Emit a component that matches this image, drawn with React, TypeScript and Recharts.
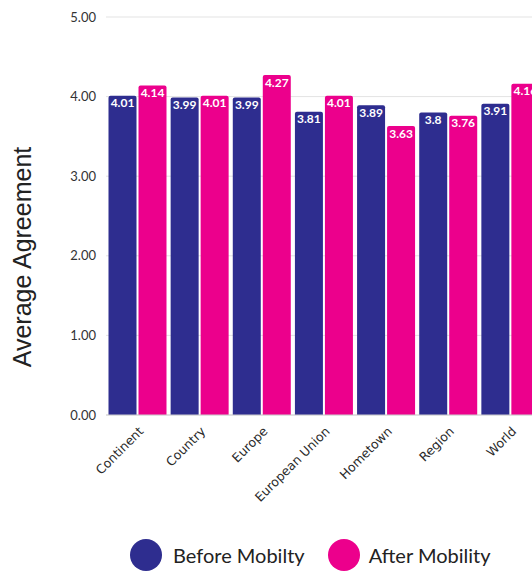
import { BarChart, Bar, XAxis, YAxis, CartesianGrid, LabelList } from "recharts";

const categories = ["Continent", "Country", "Europe", "European Union", "Hometown", "Region", "World"];
const beforeMobility = [4.01, 3.99, 3.99, 3.81, 3.89, 3.8, 3.91];
const afterMobility = [4.14, 4.01, 4.27, 4.01, 3.63, 3.76, 4.16];
const yTicks = [0, 1, 2, 3, 4, 5];

const NAVY = "#2e2d8f";
const PINK = "#ec008c";

const data = categories.map((name, i) => ({
  name,
  before: beforeMobility[i],
  after: afterMobility[i],
}));

// étiquettes de l'axe X, tournées à -45°
function AngledTick(props: any) {
  const { x, y, payload } = props;
  return (
    <g transform={`translate(${x + 4},${y + 6})`}>
      <text
        textAnchor="end"
        transform="rotate(-45)"
        fontFamily="DejaVu Sans"
        fontSize={12.5}
        fill="#2a2a2a"
        dy="0.35em"
      >
        {payload.value}
      </text>
    </g>
  );
}

export default function App() {
  return (
    <div style={{ position: "absolute", left: 0, top: 0, width: 532, height: 571, overflow: "hidden", background: "#fff" }}>
      <BarChart
        width={560}
        height={571}
        data={data}
        margin={{ top: 17, right: 19, left: 46, bottom: 0 }}
        barGap={2}
        barCategoryGap={2.5}
      >
        <CartesianGrid vertical={false} stroke="#e3e3e3" />
        <XAxis
          dataKey="name"
          height={156}
          tickLine={false}
          axisLine={{ stroke: "#cfcfcf" }}
          tick={<AngledTick />}
          interval={0}
        />
        <YAxis
          domain={[0, 5]}
          ticks={yTicks}
          width={60}
          tickLine={false}
          axisLine={false}
          tickMargin={4}
          tickFormatter={(v: number) => v.toFixed(2)}
          tick={{ fontFamily: "Lato", fontSize: 13, fill: "#333" }}
        />
        <Bar dataKey="before" fill={NAVY} radius={[2, 2, 0, 0]} isAnimationActive={false}>
          <LabelList dataKey="before" position="insideTop" offset={3} fill="#fff" fontFamily="Lato" fontWeight={700} fontSize={12} />
        </Bar>
        <Bar dataKey="after" fill={PINK} radius={[2, 2, 0, 0]} isAnimationActive={false}>
          <LabelList dataKey="after" position="insideTop" offset={3} fill="#fff" fontFamily="Lato" fontWeight={700} fontSize={12} />
        </Bar>
        <text
          transform="translate(31,257) rotate(-90)"
          textAnchor="middle"
          fontFamily="Liberation Sans"
          fontSize={25}
          fill="#222"
        >
          Average Agreement
        </text>
      </BarChart>
      <div style={{ position: "absolute", left: 130, top: 539, display: "flex", alignItems: "center", fontFamily: "Lato", fontSize: 20, color: "#222" }}>
        <span style={{ width: 32, height: 32, borderRadius: 16, background: NAVY, display: "inline-block", marginRight: 11 }} />
        <span>Before Mobilty</span>
        <span style={{ width: 32, height: 32, borderRadius: 16, background: PINK, display: "inline-block", marginLeft: 23, marginRight: 9 }} />
        <span>After Mobility</span>
      </div>
    </div>
  );
}
